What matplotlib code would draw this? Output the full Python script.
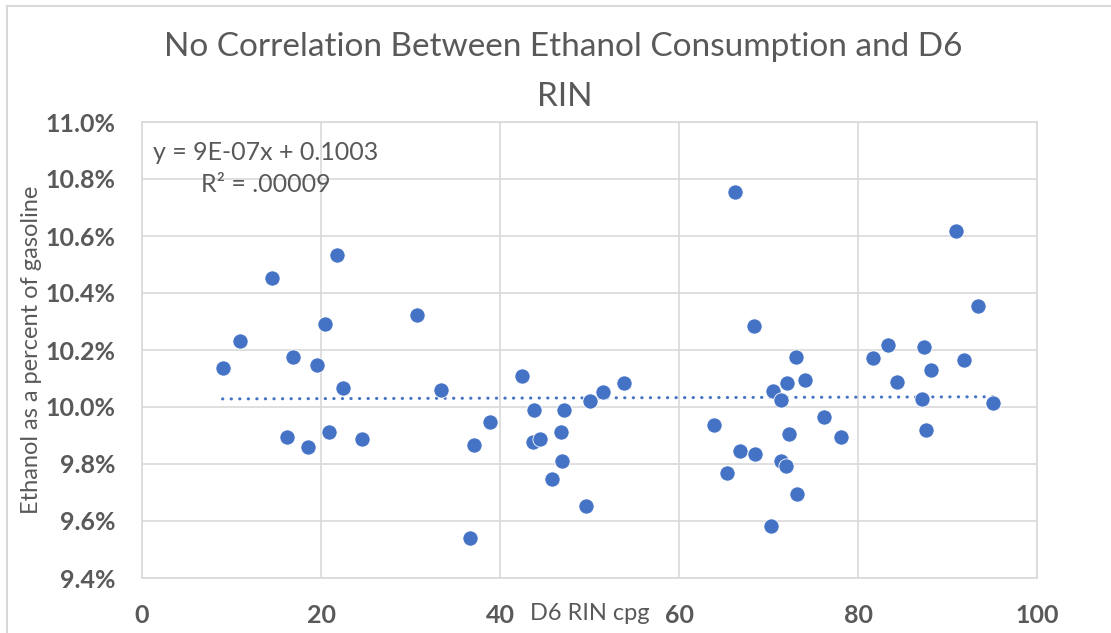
import numpy as np
import matplotlib
matplotlib.use('Agg')
import matplotlib.pyplot as plt
from matplotlib.ticker import FuncFormatter
from matplotlib.lines import Line2D

# ---- data ----
d6_rin_cpg = [9.0, 10.9, 14.5, 16.9, 19.6, 20.4, 21.8, 22.5, 30.7, 33.4,
              16.2, 18.5, 20.9, 24.6,
              38.9, 37.1, 36.6, 42.5, 43.8, 43.7, 44.5, 47.2, 46.8, 46.9,
              45.8, 49.6, 50.1, 51.5, 53.8,
              66.3, 68.4, 73.1, 72.1, 74.1, 70.5, 71.4, 63.9, 76.2, 72.3,
              78.1, 66.8, 68.5, 65.4, 71.4, 71.9, 73.2, 70.3,
              91.0, 93.4, 81.7, 83.4, 87.4, 91.8, 88.2, 84.4, 87.1, 95.1, 87.6]
ethanol_pct = [10.138, 10.231, 10.452, 10.177, 10.147, 10.292, 10.533, 10.068, 10.322, 10.059,
               9.895, 9.860, 9.913, 9.889,
               9.946, 9.865, 9.539, 10.110, 9.991, 9.877, 9.889, 9.988, 9.913, 9.809,
               9.749, 9.653, 10.021, 10.054, 10.084,
               10.754, 10.285, 10.176, 10.083, 10.094, 10.056, 10.023, 9.938, 9.965, 9.906,
               9.895, 9.844, 9.835, 9.768, 9.809, 9.793, 9.693, 9.584,
               10.618, 10.356, 10.173, 10.216, 10.211, 10.166, 10.129, 10.087, 10.028, 10.014, 9.918]
x_ticks = [0, 20, 40, 60, 80, 100]
y_ticks = [9.4, 9.6, 9.8, 10.0, 10.2, 10.4, 10.6, 10.8, 11.0]
title_lines = ["No Correlation Between Ethanol Consumption and D6", "RIN"]
x_label = "D6 RIN cpg"
y_label = "Ethanol as a percent of gasoline"
equation_text = "y = 9E-07x + 0.1003"
r2_text = "R² = .00009"

# ---- styles ----
BLUE = '#4472C4'
GRID = '#D9D9D9'
TXT = '#595959'
FONT = ['Lato', 'DejaVu Sans']
plt.rcParams['font.family'] = FONT

W, H = 1111, 633
fig = plt.figure(figsize=(W / 100, H / 100), dpi=100)
fig.patch.set_facecolor('white')

# outer chart border (left and top visible)
fig.add_artist(Line2D([7 / W, 7 / W], [0, 1 - 6 / H], color=GRID, lw=1.5,
                      transform=fig.transFigure))
fig.add_artist(Line2D([7 / W, 1], [1 - 6 / H, 1 - 6 / H], color=GRID, lw=1.5,
                      transform=fig.transFigure))

left, right, top, bottom = 142, 1037, 122, 578
ax = fig.add_axes([left / W, 1 - bottom / H, (right - left) / W, (bottom - top) / H])
ax.set_xlim(0, 100)
ax.set_ylim(9.4, 11.0)
ax.set_xticks(x_ticks)
ax.set_yticks(y_ticks)
ax.yaxis.set_major_formatter(FuncFormatter(lambda v, p: f"{v:.1f}%"))
ax.grid(True, color=GRID, lw=1.2, zorder=0)
ax.set_axisbelow(True)
for s in ax.spines.values():
    s.set_color(GRID)
    s.set_linewidth(1.2)
ax.tick_params(length=0, labelsize=18, labelcolor=TXT)
ax.tick_params(axis='y', pad=19)
ax.tick_params(axis='x', pad=19)
for lab in ax.get_xticklabels() + ax.get_yticklabels():
    lab.set_fontweight('bold')

x = np.array(d6_rin_cpg)
y = np.array(ethanol_pct)

# linear trendline
coef = np.polyfit(x, y, 1)
xs = np.array([x.min(), x.max()])
ax.plot(xs, np.polyval(coef, xs), color=BLUE, lw=2.2,
        linestyle=(0, (0.1, 2.7)), dash_capstyle='round', zorder=2)

ax.scatter(x, y, s=120, color=BLUE, edgecolors='white', linewidths=0.6, zorder=3)

# texts
fig.text(563 / W, 1 - 47 / H, title_lines[0], ha='center', va='center',
         fontsize=24, color=TXT, fontweight='normal')
fig.text(565 / W, 1 - 97 / H, title_lines[1], ha='center', va='center',
         fontsize=24, color=TXT, fontweight='normal')
fig.text(32 / W, 1 - 350 / H, y_label, rotation=90, ha='center', va='center',
         fontsize=17, color=TXT)
fig.text(590 / W, 1 - 614 / H, x_label, ha='center', va='center',
         fontsize=17, color=TXT)
fig.text(153 / W, 1 - 153 / H, equation_text, ha='left', va='center',
         fontsize=18, color=TXT)
fig.text(266 / W, 1 - 185 / H, r2_text, ha='center', va='center',
         fontsize=18, color=TXT)

fig.savefig('out.png', dpi=100, facecolor='white')
